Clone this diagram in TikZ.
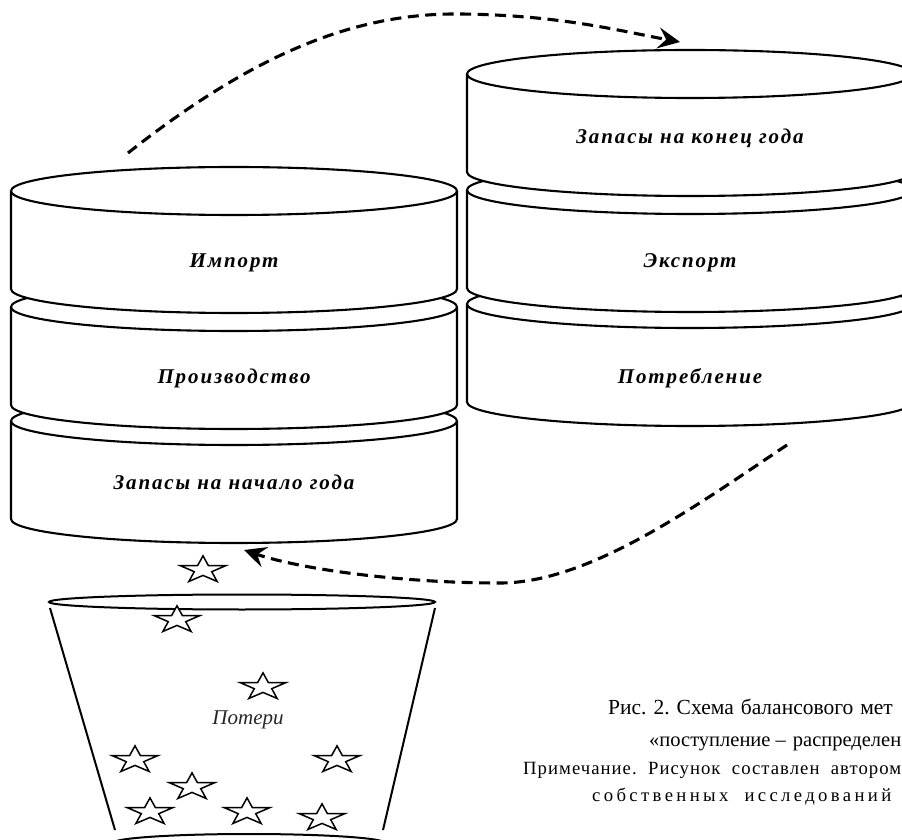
\documentclass[tikz,border=0pt]{standalone}
\usepackage{fontspec}
\setmainfont{Liberation Serif}
\usetikzlibrary{arrows.meta}
\newcommand\drawcan[5]{%
  \filldraw[canline] ({#1-#3},{#2}) -- ({#1-#3},{#2-#5})
    arc[start angle=180,end angle=360,x radius=#3pt,y radius=#4pt]
    -- ({#1+#3},{#2})
    arc[start angle=0,end angle=180,x radius=#3pt,y radius=#4pt] -- cycle;
  \draw[canline] ({#1-#3},{#2}) arc[start angle=180,end angle=360,x radius=#3pt,y radius=#4pt];}
\begin{document}
\begin{tikzpicture}[x=1pt,y=1pt,
  canline/.style={line width=2.1pt, fill=white, draw=black},
  lbl/.style={font=\fontsize{21}{25}\selectfont\bfseries\itshape\addfontfeature{LetterSpace=9}, inner sep=0pt},
  dasharrow/.style={line width=3.1pt, dash pattern=on 11pt off 6.5pt,
     -{Stealth[length=22pt,width=21pt,inset=8pt]}},
  bucket/.style={line width=2pt, draw=black},
  pstar/.style={line width=1.5pt, draw=black, fill=white, line join=miter},
  captxt/.style={font=\fontsize{21.5}{25}\selectfont, inner sep=0pt, anchor=base west},
  notetxt/.style={font=\fontsize{18.7}{22}\selectfont, inner sep=0pt, anchor=base west},
  pics/flatstar/.style={code={%
    \draw[pstar] (90:24) -- (126:9.2) -- (162:24) -- (198:9.2) -- (234:24) -- (270:9.2)
      -- (306:24) -- (342:9.2) -- (18:24) -- (54:9.2) -- cycle;}}
]
\useasboundingbox (0,0) rectangle (902,839);
\clip (0,0) rectangle (902,839);
\fill[white] (0,0) rectangle (902,839);

% left stack (bottom first)
\drawcan{234}{418}{223}{24}{98}
\drawcan{234}{532}{223}{24}{98}
\drawcan{234}{648}{223}{24}{98}
% right stack
\drawcan{690}{535}{223}{24}{98}
\drawcan{690}{649}{223}{24}{98}
\drawcan{690}{765}{223}{24}{98}

\node[lbl] (imp)  at (234,576) {Импорт};
\node[lbl] (prod) at (234,461) {Производство};
\node[lbl] (zn)   at (234,357) {Запасы на начало года};
\node[lbl] (zk)   at (690,701) {Запасы на конец года};
\node[lbl] (exp)  at (690,576) {Экспорт};
\node[lbl] (potr) at (690,461) {Потребление};

% dashed arrows
\coordinate (a1s) at (128,686);
\coordinate (a1e) at (680,797);
\draw[dasharrow] (a1s) .. controls (260,790) and (360,826) .. (460,825)
   .. controls (560,824) and (620,808) .. (a1e);
\coordinate (a2s) at (787,394);
\coordinate (a2e) at (244,289);
\draw[dasharrow] (a2s) .. controls (697,334) and (590,256) .. (500,256)
   .. controls (400,256) and (300,270) .. (a2e);

% bucket
\draw[bucket] (50,231) -- (115,9);
\draw[bucket] (435,231) -- (383,9);
\draw[bucket] (242,237) ellipse [x radius=193pt, y radius=7.5pt];
\draw[bucket] (249,-4) ellipse [x radius=136pt, y radius=9pt];

% stars
\pic[yscale=0.59] at (203,269) {flatstar};
\pic[yscale=0.59] at (177,219) {flatstar};
\pic[yscale=0.59] at (263,152) {flatstar};
\pic[yscale=0.59] at (135,79) {flatstar};
\pic[yscale=0.59] at (337,79) {flatstar};
\pic[yscale=0.59] at (192,52) {flatstar};
\pic[yscale=0.59] at (150,27) {flatstar};
\pic[yscale=0.59] at (247,27) {flatstar};
\pic[yscale=0.59] at (322,21) {flatstar};

\node[font=\fontsize{21}{25}\selectfont\itshape, text=black!85, inner sep=0pt] (pot) at (248,119) {Потери};

% caption
\node[captxt] (c1) at (608,125) {Рис.\hspace{7pt}2.\hspace{7pt}Схема\hspace{7pt}балансового\hspace{7pt}мет};
\node[captxt, font=\fontsize{20.5}{25}\selectfont] (c2) at (649,93) {«поступление –\hspace{7pt}распределен};
\node[notetxt] (c3) at (523,65) {\addfontfeature{LetterSpace=5.5}Примечание.\ \ Рисунок\ \ составлен\ \ автором};
\node[notetxt] (c4) at (592,38) {\addfontfeature{LetterSpace=18}собственных\ \ исследований};
\end{tikzpicture}
\end{document}
